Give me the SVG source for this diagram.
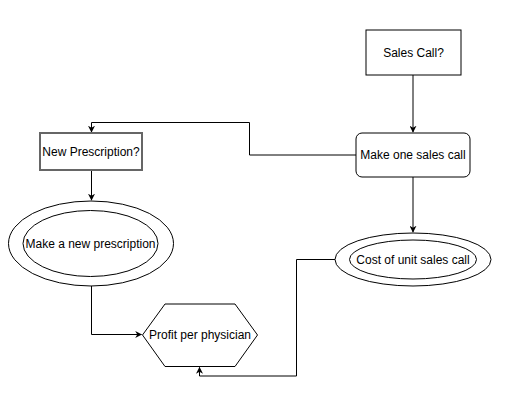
<svg xmlns="http://www.w3.org/2000/svg" width="510" height="404" viewBox="0 0 510 404">
<style>
  .shape { fill: #ffffff; stroke: #000000; stroke-width: 1; }
  .label { font-family: "Liberation Sans", Arial, Helvetica, sans-serif; font-size: 12px; fill: #000000; text-anchor: middle; dominant-baseline: central; }
  .edge { fill: none; stroke: #000000; stroke-width: 1; }
</style>
<defs>
  <marker id="arrow" viewBox="0 0 10 10" refX="9" refY="5" markerWidth="7" markerHeight="7" markerUnits="userSpaceOnUse" orient="auto">
    <path d="M0,0 L10,5 L0,10 L3,5 Z" fill="#000000"/>
  </marker>
</defs>
<rect width="510" height="404" fill="#ffffff"/>
<g id="connectors">
  <path class="edge" d="M413,75 L413,132" marker-end="url(#arrow)"/>
  <path class="edge" d="M413,177 L413,232" marker-end="url(#arrow)"/>
  <path class="edge" d="M356,155 L249.5,155 L249.5,122.5 L91.5,122.5 L91.5,132" marker-end="url(#arrow)"/>
  <path class="edge" d="M91.5,170 L91.5,200" marker-end="url(#arrow)"/>
  <path class="edge" d="M91.5,286 L91.5,334.5 L141.5,334.5" marker-end="url(#arrow)"/>
  <path class="edge" d="M335,259.5 L296.5,259.5 L296.5,376 L199.5,376 L199.5,367.5" marker-end="url(#arrow)"/>
</g>
<g id="sales-call">
  <rect class="shape" x="366" y="30" width="95" height="45"/>
  <text class="label" x="413.5" y="52.5">Sales Call?</text>
</g>
<g id="make-one-sales-call">
  <rect class="shape" x="356" y="133" width="114" height="44" rx="6" ry="6"/>
  <text class="label" x="413" y="155">Make one sales call</text>
</g>
<g id="cost-of-unit-sales-call">
  <ellipse class="shape" cx="413" cy="259.5" rx="78" ry="26.5"/>
  <ellipse class="shape" cx="413" cy="259.5" rx="63.5" ry="19.5"/>
  <text class="label" x="413" y="259.5">Cost of unit sales call</text>
</g>
<g id="new-prescription">
  <rect x="40" y="133" width="102" height="37" fill="#ffffff" stroke="#666666" stroke-width="2"/>
  <text class="label" x="91" y="151.5">New Prescription?</text>
</g>
<g id="make-a-new-prescription">
  <ellipse class="shape" cx="91" cy="243.5" rx="82.5" ry="42.5"/>
  <ellipse class="shape" cx="90.5" cy="243.5" rx="67.5" ry="33"/>
  <text class="label" x="90.5" y="243.5">Make a new prescription</text>
</g>
<g id="profit-per-physician">
  <polygon class="shape" points="142.5,335 165,304 235,304 257.5,335 235,366.5 165,366.5"/>
  <text class="label" x="200" y="335">Profit per physician</text>
</g>
</svg>
